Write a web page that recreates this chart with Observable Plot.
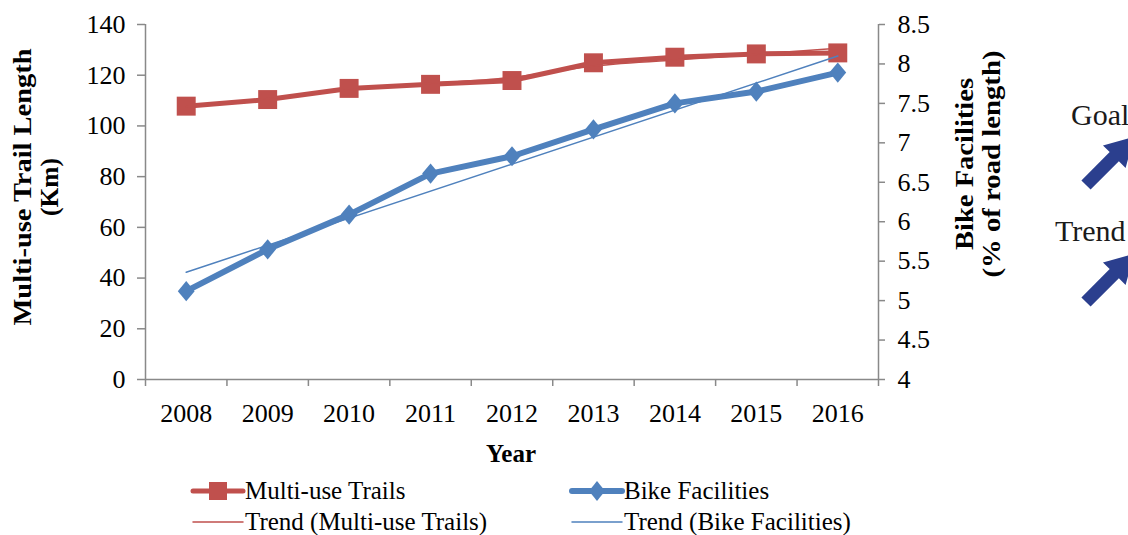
<!DOCTYPE html>
<html>
<head>
<meta charset="utf-8">
<script src="https://cdn.jsdelivr.net/npm/d3@7"></script>
<script src="https://cdn.jsdelivr.net/npm/@observablehq/plot@0.6"></script>
<style>
  body { margin: 0; background: #fff; }
  #wrap { position: relative; width: 1128px; height: 535px; overflow: hidden; background: #fff;
          font-family: "Liberation Serif", "DejaVu Serif", serif; }
  #overlay { position: absolute; left: 0; top: 0; pointer-events: none; }
</style>
</head>
<body>
<div id="wrap">
  <div id="chart"></div>
  <svg id="overlay" width="1128" height="535"></svg>
</div>
<script>
// ---- data ----
const years = [2008, 2009, 2010, 2011, 2012, 2013, 2014, 2015, 2016];
const trails = [107.8, 110.4, 114.8, 116.4, 117.9, 124.9, 127.1, 128.4, 128.8];
const trailsTrend = [107.6, 110.8, 114.2, 116.8, 119.2, 123.6, 126.0, 128.3, 130.6];
const bike = [5.12, 5.65, 6.09, 6.61, 6.83, 7.17, 7.50, 7.65, 7.89];
const bikeTrendYears = [2008, 2016];
const bikeTrend = [5.36, 8.10];
const leftTicks = [0, 20, 40, 60, 80, 100, 120, 140];
const rightTicks = [4, 4.5, 5, 5.5, 6, 6.5, 7, 7.5, 8, 8.5];
const boundaries = [2007.5, 2008.5, 2009.5, 2010.5, 2011.5, 2012.5, 2013.5, 2014.5, 2015.5, 2016.5];

const seriesNames = ["Multi-use Trails", "Bike Facilities", "Trend (Multi-use Trails)", "Trend (Bike Facilities)"];
const leftTitle = ["Multi-use Trail Length", "(Km)"];
const rightTitle = ["Bike Facilities", "(% of road length)"];
const xTitle = "Year";
const notes = ["Goal", "Trend"];

const RED = "#C0504D", BLUE = "#4F81BD", GRAY = "#898989", NAVY = "#2B3F8E";
const FONT = '"Liberation Serif", "DejaVu Serif", serif';

// secondary (right) axis mapped into left-axis units
const rMin = 4, rMax = 8.5, lMax = 140;
const bikeToLeft = v => (v - rMin) / (rMax - rMin) * lMax;
const leftToBike = d => Math.round((rMin + d * (rMax - rMin) / lMax) * 10) / 10;

// custom diamond (square-ish, slightly tall)
const diamond = {
  draw(ctx, size) {
    const k = Math.sqrt(size);
    const w = k * 0.5, h = k * 0.6;
    ctx.moveTo(0, -h); ctx.lineTo(w, 0); ctx.lineTo(0, h); ctx.lineTo(-w, 0); ctx.closePath();
  }
};

const TICKFS = 26;
const chart = Plot.plot({
  width: 1128,
  height: 470,
  marginLeft: 145,
  marginRight: 250,
  marginTop: 24,
  marginBottom: 91,
  style: { fontFamily: FONT, fontSize: TICKFS + "px", color: "#000", background: "#fff", overflow: "visible" },
  x: { type: "linear", domain: [2007.5, 2016.5] },
  y: { domain: [0, 140] },
  marks: [
    Plot.ruleY([0], { stroke: GRAY, strokeWidth: 1.5 }),
    Plot.ruleX([boundaries[0], boundaries[boundaries.length - 1]], { stroke: GRAY, strokeWidth: 1.5 }),
    Plot.axisY(leftTicks, { anchor: "left", tickSize: 8, tickPadding: 12, stroke: GRAY, strokeWidth: 1.5,
      fill: "#000", fontSize: TICKFS, label: null, tickFormat: d => String(d) }),
    Plot.axisY(rightTicks.map(bikeToLeft), { anchor: "right", tickSize: 6, tickPadding: 13, stroke: GRAY,
      strokeWidth: 1.5, fill: "#000", fontSize: TICKFS, label: null, tickFormat: d => String(leftToBike(d)) }),
    Plot.axisX(boundaries, { anchor: "bottom", tickSize: 7, stroke: GRAY, strokeWidth: 1.5, tickFormat: () => "", label: null }),
    Plot.axisX(years, { anchor: "bottom", tickSize: 0, tickPadding: 24, fill: "#000", fontSize: TICKFS,
      tickFormat: d => String(d), label: null }),
    // Multi-use Trails
    Plot.line(years, { x: d => d, y: (d, i) => trails[i], stroke: RED, strokeWidth: 5 }),
    Plot.dot(years, { x: d => d, y: (d, i) => trails[i], symbol: "square", r: 10.7, fill: RED, stroke: "none" }),
    // Bike Facilities
    Plot.line(years, { x: d => d, y: (d, i) => bikeToLeft(bike[i]), stroke: BLUE, strokeWidth: 6 }),
    Plot.dot(years, { x: d => d, y: (d, i) => bikeToLeft(bike[i]), symbol: diamond, r: 9.5, fill: BLUE, stroke: "none" }),
    // trends
    Plot.line(years, { x: d => d, y: (d, i) => trailsTrend[i], stroke: RED, strokeWidth: 1.5, curve: "natural" }),
    Plot.line(bikeTrendYears, { x: d => d, y: (d, i) => bikeToLeft(bikeTrend[i]), stroke: BLUE, strokeWidth: 1.5 })
  ]
});
document.getElementById("chart").appendChild(chart);

// ---- overlay: titles, legend, annotation ----
const ov = d3.select("#overlay").style("font-family", FONT);

function rotTitle(lines, x0, cy, gap, lengths) {
  lines.forEach((t, i) => {
    ov.append("text")
      .attr("transform", `translate(${x0 + i * gap},${cy}) rotate(-90)`)
      .attr("text-anchor", "middle")
      .attr("font-weight", "bold")
      .attr("font-size", 25)
      .attr("fill", "#000")
      .attr("textLength", lengths[i])
      .attr("lengthAdjust", "spacingAndGlyphs")
      .text(t);
  });
}
rotTitle(leftTitle, 31, 187, 27, [277, 58]);
rotTitle(rightTitle, 973, 164, 27, [172, 227]);

ov.append("text").attr("x", 511).attr("y", 462).attr("text-anchor", "middle")
  .attr("font-weight", "bold").attr("font-size", 25).attr("fill", "#000").text(xTitle);

// legend
const legendItems = [
  { name: seriesNames[0], color: RED, w: 5, marker: "square", x: 193, y: 491 },
  { name: seriesNames[1], color: BLUE, w: 6, marker: "diamond", x: 572, y: 491 },
  { name: seriesNames[2], color: RED, w: 1.5, marker: null, x: 193, y: 522 },
  { name: seriesNames[3], color: BLUE, w: 1.5, marker: null, x: 572, y: 522 }
];
legendItems.forEach(it => {
  const g = ov.append("g");
  g.append("line").attr("x1", it.x).attr("x2", it.x + 50).attr("y1", it.y).attr("y2", it.y)
    .attr("stroke", it.color).attr("stroke-width", it.w).attr("stroke-linecap", "round");
  if (it.marker === "square") {
    g.append("rect").attr("x", it.x + 25 - 9).attr("y", it.y - 9).attr("width", 18).attr("height", 18).attr("fill", it.color);
  } else if (it.marker === "diamond") {
    const cx = it.x + 25, cy = it.y;
    g.append("path").attr("d", `M${cx},${cy - 10}L${cx + 8},${cy}L${cx},${cy + 10}L${cx - 8},${cy}Z`).attr("fill", it.color);
  }
  g.append("text").attr("x", it.x + 52).attr("y", it.y + 8).attr("font-size", 25).attr("fill", "#000").text(it.name);
});

// annotation (Goal / Trend arrows at right edge)
function arrow(tx, ty, angleDeg) {
  const a = angleDeg * Math.PI / 180;
  const ux = Math.cos(a), uy = -Math.sin(a);
  const px = -uy, py = ux;
  const shaft = 6.5, head = 16, shaftLen = 40, headLen = 28;
  const P = (d, o) => [tx + ux * d + px * o, ty + uy * d + py * o];
  const pts = [P(0, shaft), P(shaftLen, shaft), P(shaftLen, head), P(shaftLen + headLen, 0),
               P(shaftLen, -head), P(shaftLen, -shaft), P(0, -shaft)];
  ov.append("path").attr("d", "M" + pts.map(p => p.join(",")).join("L") + "Z").attr("fill", NAVY);
}
ov.append("text").attr("x", 1071).attr("y", 125).attr("font-size", 30).attr("fill", "#1a1a1a").text(notes[0]);
ov.append("text").attr("x", 1055).attr("y", 241).attr("font-size", 30).attr("fill", "#1a1a1a").text(notes[1]);
arrow(1086, 185, 45);
arrow(1086, 302, 45);
</script>
</body>
</html>
